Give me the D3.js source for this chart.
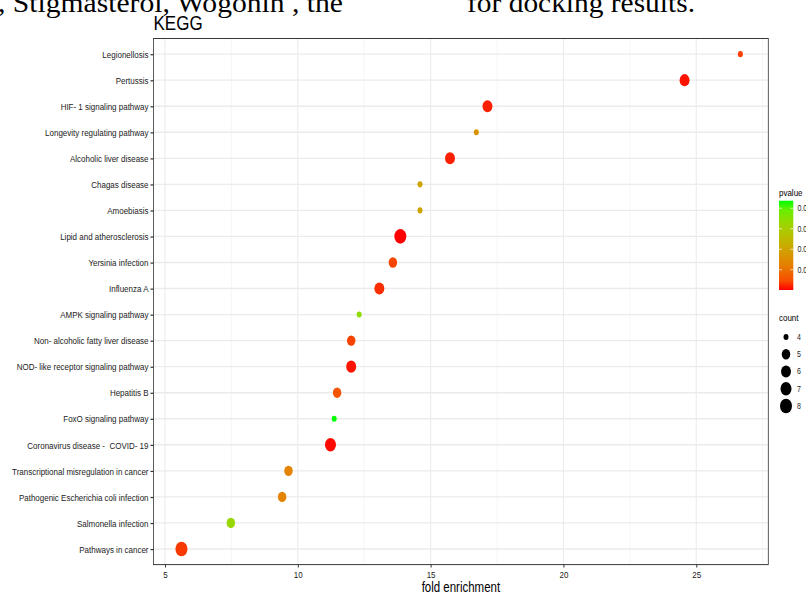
<!DOCTYPE html>
<html><head><meta charset="utf-8">
<script src="https://cdn.jsdelivr.net/npm/d3@7"></script>
<style>html,body{margin:0;padding:0;background:#fff;overflow:hidden} text{white-space:pre}</style>
</head><body>
<svg id="chart" width="806" height="594"></svg>
<script>
// ---- data ----
const pathways = ["Legionellosis","Pertussis","HIF- 1 signaling pathway","Longevity regulating pathway","Alcoholic liver disease","Chagas disease","Amoebiasis","Lipid and atherosclerosis","Yersinia infection","Influenza A","AMPK signaling pathway","Non- alcoholic fatty liver disease","NOD- like receptor signaling pathway","Hepatitis B","FoxO signaling pathway","Coronavirus disease -  COVID- 19","Transcriptional misregulation in cancer","Pathogenic Escherichia coli infection","Salmonella infection","Pathways in cancer"];
const foldEnrichment = [26.66,24.56,17.14,16.72,15.73,14.6,14.6,13.86,13.58,13.07,12.31,12.01,12.01,11.48,11.37,11.23,9.65,9.41,7.48,5.62];
const counts = [4,6,6,4,6,4,4,8,5,6,4,5,6,5,4,7,5,5,5,8];
const pvalues = [0.0032,0.0005,0.0010,0.0162,0.0010,0.0202,0.0202,0.0001,0.0040,0.0018,0.0341,0.0036,0.0005,0.0058,0.0437,0.0003,0.0132,0.0132,0.0328,0.0027];
const xTicks = [5,10,15,20,25];
const pTicks = [0.01,0.02,0.03,0.04];
const countTicks = [4,5,6,7,8];

const S = 1.22; // vertical stretch of the picture
const svg = d3.select("#chart").style("font-family","'Liberation Sans', Arial, sans-serif");

// caption fragment at top
svg.append("text").attr("x",-2).attr("y",11.5).attr("font-family","'Liberation Serif', 'Times New Roman', serif")
  .attr("font-size",28).attr("fill","#000").attr("textLength",345).attr("lengthAdjust","spacingAndGlyphs")
  .text(", Stigmasterol, Wogonin , the");
svg.append("text").attr("x",467).attr("y",11.5).attr("font-family","'Liberation Serif', 'Times New Roman', serif")
  .attr("font-size",28).attr("fill","#000").attr("textLength",228).attr("lengthAdjust","spacingAndGlyphs")
  .text("for docking results.");

const g = svg.append("g").attr("transform",`scale(1,${S})`);
const L = 153.5, R = 768.3, T = 38.5/S, B = 564.6/S;

const data = pathways.map((p,i)=>({name:p, fe:foldEnrichment[i], count:counts[i], p:pvalues[i]}));
const ext = d3.extent(foldEnrichment), pad = (ext[1]-ext[0])*0.05;
const x = d3.scaleLinear().domain([ext[0]-pad, ext[1]+pad]).range([L,R]);
const y = d3.scalePoint().domain(pathways).range([T,B]).padding(0.6);
const pext = d3.extent(pvalues);
const color = d3.scaleLinear().domain(pext).range(["#ff0000","#00ff00"]).interpolate(d3.interpolateLab);
const sizeT = d3.scaleLinear().domain(d3.extent(counts)).range([0,1]);
const diam = d3.scaleLinear().domain([0,1]).range([5,12]);
const radius = c => diam(Math.sqrt(sizeT(c)))/2;

// grid
const minor = d3.range(2.5, 30, 5).filter(v=>v>x.domain()[0]&&v<x.domain()[1]);
g.selectAll(".minor").data(minor).join("line").attr("x1",d=>x(d)).attr("x2",d=>x(d)).attr("y1",T).attr("y2",B)
  .attr("stroke","#f0f0f0").attr("stroke-width",0.6);
g.selectAll(".majx").data(xTicks).join("line").attr("x1",d=>x(d)).attr("x2",d=>x(d)).attr("y1",T).attr("y2",B)
  .attr("stroke","#ebebeb").attr("stroke-width",1.1);
g.selectAll(".majy").data(pathways).join("line").attr("x1",L).attr("x2",R).attr("y1",d=>y(d)).attr("y2",d=>y(d))
  .attr("stroke","#ebebeb").attr("stroke-width",1.1);

// points
g.selectAll(".pt").data(data).join("circle").attr("cx",d=>x(d.fe)).attr("cy",d=>y(d.name))
  .attr("r",d=>radius(d.count)).attr("fill",d=>color(d.p));

// border
g.append("rect").attr("x",L).attr("y",T).attr("width",R-L).attr("height",B-T).attr("fill","none")
  .attr("stroke","#333").attr("stroke-width",0.8);

// axes
const ya = g.append("g").attr("transform",`translate(${L},0)`).call(d3.axisLeft(y).tickSize(3).tickPadding(2));
ya.select(".domain").remove();
ya.selectAll("line").attr("stroke","#333");
ya.selectAll("text").attr("font-size",8).attr("fill","#222").attr("font-family","'Liberation Sans', Arial, sans-serif");
const xa = g.append("g").attr("transform",`translate(0,${B})`).call(d3.axisBottom(x).tickValues(xTicks).tickSize(3/S).tickPadding(2.6));
xa.select(".domain").remove();
xa.selectAll("line").attr("stroke","#333");
xa.selectAll("text").attr("font-size",8).attr("fill","#222").attr("font-family","'Liberation Sans', Arial, sans-serif");

// titles
g.append("text").attr("x",L).attr("y",30/S).attr("font-size",17).attr("fill","#000").text("KEGG");
g.append("text").attr("x",(L+R)/2).attr("y",592.5/S).attr("text-anchor","middle").attr("font-size",11.5).attr("fill","#000").text("fold enrichment");

// colour legend
const lg = g.append("g");
lg.append("text").attr("x",779).attr("y",196.5/S).attr("font-size",8).attr("fill","#000").text("pvalue");
const defs = svg.append("defs");
const grad = defs.append("linearGradient").attr("id","pg").attr("x1",0).attr("y1",1).attr("x2",0).attr("y2",0);
d3.range(0,1.0001,0.1).forEach(t=>{
  grad.append("stop").attr("offset",t).attr("stop-color",color(pext[0]+t*(pext[1]-pext[0])));
});
const barTop = 200.7/S, barBot = 290/S, barX = 779, barW = 14.3;
const pY = d3.scaleLinear().domain(pext).range([barBot, barTop]);
lg.append("rect").attr("x",barX).attr("y",barTop).attr("width",barW).attr("height",barBot-barTop).attr("fill","url(#pg)");
pTicks.forEach(v=>{
  lg.append("line").attr("x1",barX).attr("x2",barX+3).attr("y1",pY(v)).attr("y2",pY(v)).attr("stroke","#fff").attr("stroke-width",0.6);
  lg.append("line").attr("x1",barX+barW-3).attr("x2",barX+barW).attr("y1",pY(v)).attr("y2",pY(v)).attr("stroke","#fff").attr("stroke-width",0.6);
  lg.append("text").attr("x",797.5).attr("y",pY(v)).attr("dy","0.35em").attr("font-size",7).attr("fill","#222").text(v.toFixed(2));
});

// size legend
lg.append("text").attr("x",779).attr("y",321.5/S).attr("font-size",8).attr("fill","#000").text("count");
const cY = d3.scalePoint().domain(countTicks).range([337/S, 406/S]);
countTicks.forEach(c=>{
  lg.append("circle").attr("cx",786).attr("cy",cY(c)).attr("r",radius(c)).attr("fill","#000");
  lg.append("text").attr("x",797).attr("y",cY(c)).attr("dy","0.35em").attr("font-size",7).attr("fill","#222").text(c);
});
</script>
</body></html>
